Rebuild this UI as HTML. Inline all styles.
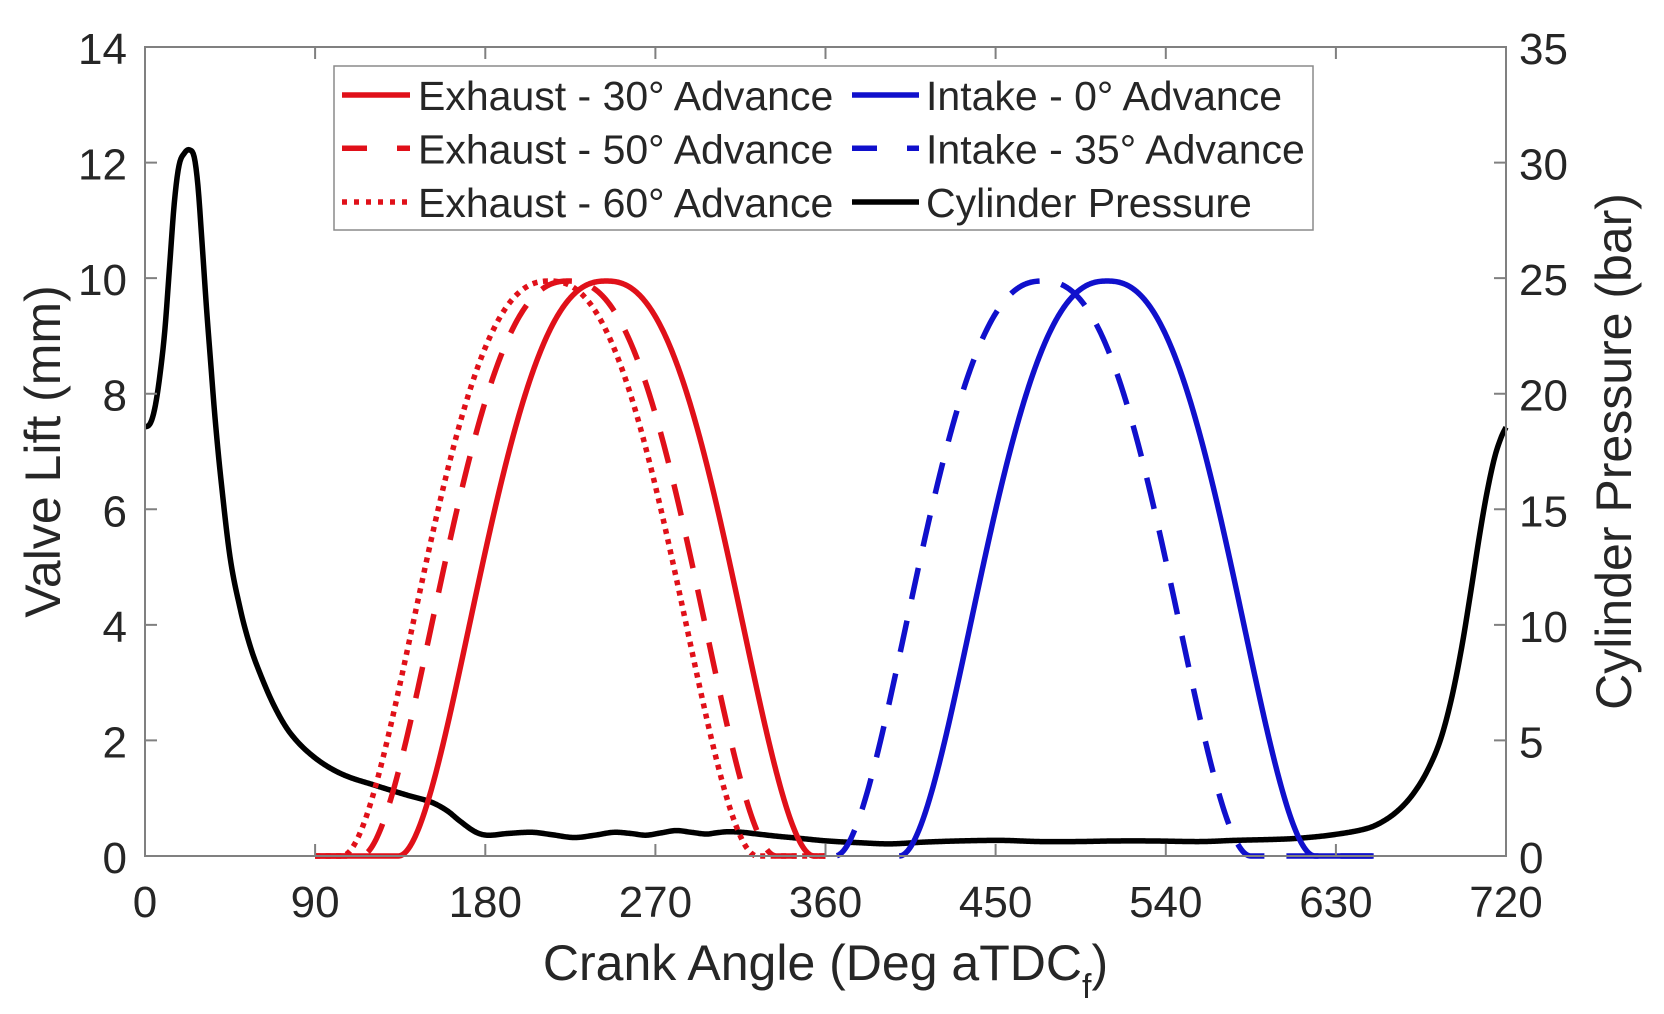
<!DOCTYPE html>
<html>
<head>
<meta charset="utf-8">
<style>
  html,body{margin:0;padding:0;background:#fff;}
  svg{display:block;}
  text{font-family:"Liberation Sans","DejaVu Sans",sans-serif;fill:#262626;}
</style>
</head>
<body>
<svg id="chart" width="1664" height="1014" viewBox="0 0 1664 1014" xmlns="http://www.w3.org/2000/svg">
  <rect x="0" y="0" width="1664" height="1014" fill="#fff"/>

  <!-- series -->
  <g fill="none" stroke-linejoin="round">
    <path id="pres" stroke="#000" stroke-width="5.5"/>
    <path id="ex30" stroke="#e01019" stroke-width="5.5"/>
    <path id="ex50" stroke="#e01019" stroke-width="5.5" stroke-dasharray="32 22"/>
    <path id="ex60" stroke="#e01019" stroke-width="5.5" stroke-dasharray="5 5.5"/>
    <path id="in0" stroke="#1010cc" stroke-width="5.5"/>
    <path id="in35" stroke="#1010cc" stroke-width="5.5" stroke-dasharray="32 22"/>
  </g>

  <!-- axes box -->
  <g stroke="#808080" stroke-width="2" fill="none">
    <rect x="145" y="47" width="1361" height="809"/>
    <path d="M315.1,856v-12M485.3,856v-12M655.4,856v-12M825.5,856v-12M995.6,856v-12M1165.8,856v-12M1335.9,856v-12
             M315.1,47v12M485.3,47v12M655.4,47v12M825.5,47v12M995.6,47v12M1165.8,47v12M1335.9,47v12"/>
    <path d="M145,740.4h12M145,624.9h12M145,509.3h12M145,393.7h12M145,278.1h12M145,162.6h12"/>
    <path d="M1506,740.4h-12M1506,624.9h-12M1506,509.3h-12M1506,393.7h-12M1506,278.1h-12M1506,162.6h-12"/>
  </g>

  <!-- left tick labels -->
  <g font-size="44" text-anchor="end">
    <text x="127" y="873">0</text>
    <text x="127" y="757.4">2</text>
    <text x="127" y="641.9">4</text>
    <text x="127" y="526.3">6</text>
    <text x="127" y="410.7">8</text>
    <text x="127" y="295.1">10</text>
    <text x="127" y="179.6">12</text>
    <text x="127" y="64">14</text>
  </g>
  <!-- right tick labels -->
  <g font-size="44" text-anchor="start">
    <text x="1519" y="873">0</text>
    <text x="1519" y="757.4">5</text>
    <text x="1519" y="641.9">10</text>
    <text x="1519" y="526.3">15</text>
    <text x="1519" y="410.7">20</text>
    <text x="1519" y="295.1">25</text>
    <text x="1519" y="179.6">30</text>
    <text x="1519" y="64">35</text>
  </g>
  <!-- x tick labels -->
  <g font-size="44" text-anchor="middle">
    <text x="145" y="917">0</text>
    <text x="315.1" y="917">90</text>
    <text x="485.3" y="917">180</text>
    <text x="655.4" y="917">270</text>
    <text x="825.5" y="917">360</text>
    <text x="995.6" y="917">450</text>
    <text x="1165.8" y="917">540</text>
    <text x="1335.9" y="917">630</text>
    <text x="1506" y="917">720</text>
  </g>

  <!-- axis labels -->
  <text x="825.5" y="980" font-size="50" text-anchor="middle">Crank Angle (Deg aTDC<tspan font-size="34" dy="18">f</tspan><tspan dy="-18">)</tspan></text>
  <text transform="translate(60,451.5) rotate(-90)" font-size="50" text-anchor="middle">Valve Lift (mm)</text>
  <text transform="translate(1631,451.5) rotate(-90)" font-size="50" text-anchor="middle">Cylinder Pressure (bar)</text>

  <!-- legend -->
  <rect x="334" y="66" width="979" height="164" fill="#fff" stroke="#8a8a8a" stroke-width="1.5"/>
  <g fill="none" stroke-width="5.5">
    <line x1="342" y1="95" x2="410" y2="95" stroke="#e01019"/>
    <line x1="342" y1="148.3" x2="410" y2="148.3" stroke="#e01019" stroke-dasharray="25 30"/>
    <line x1="342" y1="202" x2="410" y2="202" stroke="#e01019" stroke-dasharray="5 7"/>
    <line x1="852" y1="95" x2="919" y2="95" stroke="#1010cc"/>
    <line x1="852" y1="148.3" x2="919" y2="148.3" stroke="#1010cc" stroke-dasharray="25 30"/>
    <line x1="852" y1="202" x2="919" y2="202" stroke="#000"/>
  </g>
  <g font-size="41">
    <text x="418" y="110">Exhaust - 30° Advance</text>
    <text x="418" y="163.3">Exhaust - 50° Advance</text>
    <text x="418" y="217">Exhaust - 60° Advance</text>
    <text x="926" y="110">Intake - 0° Advance</text>
    <text x="926" y="163.3">Intake - 35° Advance</text>
    <text x="926" y="217">Cylinder Pressure</text>
  </g>
</svg>

<script>
(function(){
  var X=function(d){return 145+d*1361/720;};
  var Y=function(v){return 856-v*809/14;};
  function herm(pts){
    var n=pts.length, xs=[], ys=[], m=[];
    for(var i=0;i<n;i++){xs.push(pts[i][0]);ys.push(pts[i][1]);}
    for(var i=0;i<n;i++){
      if(i==0) m[i]=0;
      else if(i==n-1) m[i]=(ys[n-1]-ys[n-2])/(xs[n-1]-xs[n-2]);
      else m[i]=(ys[i+1]-ys[i-1])/(xs[i+1]-xs[i-1]);
    }
    return function(x){
      if(x<=xs[0]) return ys[0];
      if(x>=xs[n-1]) return ys[n-1];
      var i=0; while(x>xs[i+1]) i++;
      var h=xs[i+1]-xs[i], t=(x-xs[i])/h, t2=t*t, t3=t2*t;
      return (2*t3-3*t2+1)*ys[i]+(t3-2*t2+t)*h*m[i]+(-2*t3+3*t2)*ys[i+1]+(t3-t2)*h*m[i+1];
    };
  }
  function path(fn,d0,d1,step){
    var s='';
    for(var d=d0; d<=d1+1e-9; d+=step){
      s+=(s?'L':'M')+X(d).toFixed(2)+','+Y(fn(d)).toFixed(2);
    }
    return s;
  }
  var P=[[0,7.43],[3,7.5],[5.5,7.8],[8,8.35],[10.5,9.1],[13,10.2],[15.5,11.3],[18,11.95],[21,12.17],[23.5,12.22],[26,12.1],[28,11.6],[30,10.7],[32.5,9.5],[34.6,8.6],[37,7.6],[40,6.57],[45,5.17],[50.5,4.26],[55,3.7],[59.4,3.28],[68,2.62],[77,2.12],[89.5,1.71],[104,1.42],[122,1.22],[139,1.05],[151.6,0.93],[160,0.78],[166,0.62],[174.6,0.42],[181,0.36],[192,0.39],[205,0.41],[215,0.37],[227,0.32],[238,0.36],[248,0.41],[257,0.39],[265,0.36],[273,0.40],[281,0.44],[289,0.41],[297,0.38],[302,0.40],[308,0.42],[316,0.41],[324,0.38],[335,0.34],[345,0.31],[361,0.26],[378,0.23],[394,0.21],[412,0.24],[430,0.26],[453,0.27],[473,0.25],[493,0.25],[513,0.26],[533,0.26],[559,0.25],[576,0.27],[600,0.29],[611.5,0.31],[629,0.37],[646.8,0.48],[656,0.62],[664,0.82],[671,1.08],[678,1.45],[685,1.98],[691,2.7],[696.5,3.6],[701.5,4.6],[706,5.55],[710,6.3],[714,6.9],[717.5,7.25],[720,7.42]];
  var pf=herm(P);
  document.getElementById('pres').setAttribute('d',path(pf,0,720,0.5));

  function lift(pk){
    return function(d){
      var r=Math.abs(d-pk)/110;
      if(r>=1) return 0;
      var q=1-Math.pow(r,2.4);
      return 9.95*q*q;
    };
  }
  document.getElementById('ex30').setAttribute('d',path(lift(244),90,360,0.5));
  document.getElementById('ex50').setAttribute('d',path(lift(224),90,360,0.5));
  document.getElementById('ex60').setAttribute('d',path(lift(214),90,360,0.5));
  document.getElementById('in0').setAttribute('d',path(lift(509),399,650,0.5));
  document.getElementById('in35').setAttribute('d',path(lift(475),366,650,0.5));
})();
</script>
</body>
</html>
